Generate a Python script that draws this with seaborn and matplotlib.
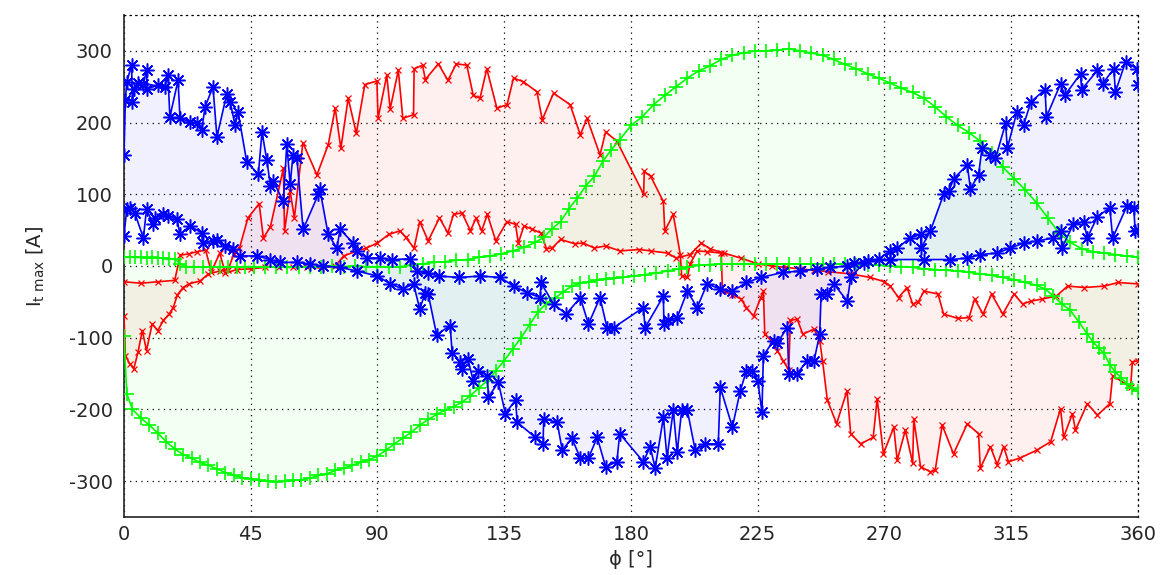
import numpy as np
import matplotlib
matplotlib.use("Agg")
import matplotlib.pyplot as plt
import seaborn as sns

# ---------------- data ----------------
xticks = [0, 45, 90, 135, 180, 225, 270, 315, 360]
yticks = [-300, -200, -100, 0, 100, 200, 300]

# green (+) : upper curve
g_top_phi = [0,2,4,6,8,10,12,14,16,18,20,22,25,28,31,34,37,40,43,46,50,54,58,62,66,70,74,78,82,86,90,94,98,
             102,106,110,114,118,122,126,130,134,138,142,146,149,152,155,158,161,164,167,170,173,176,180,184,
             188,192,196,200,204,208,212,216,220,224,228,232,236,240,244,248,252,256,260,264,268,272,276,280,
             284,288,292,296,300,304,308,312,316,320,324,328,332,336,340,344,348,352,356,360]
g_top_val = [12,13,12,12,11,12,11,11,10,10,3,-1,-1,-2,-1,-2,-1,-2,-1,-1,-2,-1,-2,-1,-1,-1,0,-1,0,-1,-1,-2,-1,
             1,3,5,6,8,9,12,14,17,21,26,33,40,52,62,80,95,112,125,146,162,176,196,208,
             225,238,250,262,272,279,288,294,297,300,300,301,303,300,297,294,288,281,275,268,262,255,248,242,
             234,222,208,196,186,174,158,138,122,106,88,67,46,33,24,20,18,16,14,12]

# green (+) : lower curve
g_bot_phi = [0,1,3,6,9,12,15,18,21,24,27,30,33,36,39,42,45,48,51,54,57,60,63,66,69,72,75,78,81,84,87,90,93,96,99,
             102,105,108,111,114,117,120,123,126,129,132,135,138,141,144,147,150,153,156,159,162,165,168,171,174,
             177,181,185,189,193,197,200,204,208,212,216,220,224,228,232,236,240,244,248,252,256,260,264,268,272,
             276,280,284,288,292,296,300,304,308,312,316,320,324,327,330,333,336,339,342,344,346,348,350,352,354,
             356,358,360]
g_bot_val = [-98,-178,-200,-212,-222,-233,-245,-255,-263,-268,-274,-278,-283,-288,-292,-295,-297,-299,-300,-301,
             -300,-299,-298,-296,-292,-290,-285,-282,-278,-274,-270,-265,-257,-248,-240,
             -232,-222,-214,-207,-201,-196,-190,-181,-170,-160,-146,-132,-116,-100,-82,-64,-52,-45,-36,-28,-24,
             -22,-20,-18,-17,-16,-14,-12,-10,-7,-4,-2,1,2,3,3,3,3,3,3,3,3,3,3,3,3,2,2,1,0,
             -1,-2,-4,-5,-6,-7,-9,-11,-13,-16,-19,-23,-27,-32,-42,-53,-62,-78,-95,-106,-114,-122,-138,-148,-156,
             -164,-170,-174]

# red (x) : large curve
r_big_phi = [0,0.5,2,3.5,5,6.5,8,10,12,14,16,17.5,19,21,23,27,30,34,37,39,41,44,48,49.5,52,56.6,57,59,60.5,
             63.5,68.5,72.5,75,77,79.6,82.5,85.5,89.8,90.2,93.3,94.5,97.4,99,102.8,103,106,107,111.6,115,118,
             121.7,124,126.4,128.8,132.4,136,138.3,141.8,146.6,148.5,152.5,158.4,162,164.4,169,171,175,184.5,
             184.7,187,191.5,192,195,197.5,198,200,201,203.5,207,212,212.5,216,219,221,223.5,226,227,227.5,230,
             232,234,236,236.6,239,241,245,247,248,249.7,253,256.7,258,261.5,266,267.4,269.6,273.3,274.5,277.4,
             280,280.4,282.8,286.3,288,290.5,294.5,299.4,303.4,304,307.6,310,312.3,314,318,324,329,332.5,333.6,
             336.7,337.8,342,345.6,350,351,357.4,358,360]
r_big_val = [-70,-125,-136,-143,-120,-90,-118,-81,-90,-76,-67,-58,-40,-30,-25,-21,-11,-7,-5,17,25,67,87,39,55,
             136,49,104,67,
             172,127,169,220,164,234,185,253,258,206,266,219,273,206,211,275,280,260,282,259,282,
             280,238,234,275,220,225,262,257,243,204,241,225,183,206,155,187,174,100,
             132,125,90,49,72,16,-14,-16,3,21,20,18,-35,-40,-46,-58,-70,-45,-35,-95,-105,
             -118,-132,-145,-76,-74,-95,-88,-104,-132,-187,-220,-174,-234,-248,-239,-185,-262,-225,-271,-229,
             -275,-213,-280,-287,-285,-222,-262,-220,-234,-282,-252,-277,-252,-273,-268,-257,-245,-199,-239,
             -206,-229,-192,-208,-192,-153,-169,-134,-132]

# red (x) : small curve
r_small_phi = [0,6,12,18,20,23,26,29,31,34,36,40,45,50,55,60,65,70,75,78,82,86,90,94,98,100,103,105,108,112,
               115,117,120,123,125,127,129,132,136,139,140,142,145,148,150,152,155,160,163,167,171,176,183,187,
               193,196,201,205,208,213,219,225,230,235,240,245,250,258,265,270,272,275,278,280,282,284,289,291,
               296,300,302,305,308,312,316,319,322,326,331,335,341,348,353,360]
r_small_val = [-22,-24,-22,-20,15,17,20,22,-8,18,-10,-5,-4,-2,-1,-2,-1,-3,0,14,20,25,32,44,49,40,25,62,35,67,
               46,72,74,49,67,49,72,35,62,58,32,56,51,46,24,25,37,31,32,25,28,21,23,21,
               18,11,16,32,24,18,11,3,0,-2,-4,-6,-8,-11,-16,-22,-28,-44,-30,-53,-50,-35,-39,-67,
               -73,-72,-46,-67,-39,-67,-39,-53,-49,-46,-42,-28,-30,-28,-23,-25]

# blue (*) : curve starting high
b_a_phi = [0,0.5,1,2.7,3,3.4,5,6.9,8,8.2,12,14.5,15.6,16.3,19.2,19.9,23.4,25.8,27.6,28.8,31.6,33,36.5,37.7,
           39.4,40.5,43.6,47.7,49,50.7,52,53,56.6,57.8,59,60,61.4,63.6,69,69.5,72.5,75.6,76.7,81.4,82.7,86.3,
           91,95,101.6,104,108,112,119,126.5,133.6,138.3,143,147.8,148,152.5,157,162,164.9,169,171.5,173.8,
           184.4,185,191.5,191.7,193,196.4,200,203.5,207,211.7,216,221,226,234,240,246,250.8,256.8,259,264,
           272,284,293.4,299.4,304,310,314.7,319.4,324.3,330,332.5,333,337,340.7,342,345.6,350,351,356,358.5,
           359,360]
b_a_val = [155,232,257,280,229,247,255,254,273,247,252,250,266,208,259,206,201,199,190,222,250,180,240,229,
           197,215,145,128,187,148,112,118,90,170,114,155,150,51,100,108,44,25,51,32,21,11,
           11,9,10,-7,-10,-14,-16,-14,-16,-28,-37,-44,-23,-53,-67,-44,-81,-44,-86,-86,
           -58,-86,-42,-81,-76,-72,-35,-58,-25,-32,-35,-23,-16,-9,-7,-4,-2,0,4,7,
           9,9,9,11,16,18,25,32,35,39,49,25,58,62,39,69,81,39,83,81,
           49,50]

# blue (*) : curve starting low
b_b_phi = [0,1,2,3.8,6.9,8,10.4,11,14,15.6,18.8,19.9,23.4,27.6,28,31.6,33,35.9,38.8,41.2,47.2,52,55.4,61.4,
           66,70.7,76.7,82.7,90,94.5,99,102.8,105,107,108,111,115.8,116.5,119.4,120,122,124,125.8,129,129.4,
           132.9,135.4,139,139.6,146,148.8,149,153.8,155.6,159,162,164.9,168,171,175,176,184.4,186.8,188.6,
           191.5,192.8,195,196.4,198,200,202.8,206.4,211,211.7,216,218.8,221,223,225,226.5,227,230.6,232,
           235.5,236,239,242.6,245,247,247.5,249.7,252,256.8,258,262.6,268,272,274.6,279,282.8,283,286.3,
           291,292.8,294.6,299.4,300.5,303.4,304.6,307.6,309.4,313,313.6,317,319.4,322,327,327.5,332.5,334,
           339.6,340,345.6,347.4,351.4,352,355.6,359.6,360]
b_b_val = [42,80,81,74,39,79,58,67,72,70,65,44,56,46,32,35,36,28,24,14,14,9,5,5,
           3,0,-2,-7,-14,-25,-32,-25,-60,-37,-39,-96,-83,-121,-134,-143,-129,-160,-146,-153,-183,
           -162,-206,-187,-218,-239,-248,-213,-218,-257,-240,-268,-268,-239,-280,-273,-234,-273,-252,-282,
           -211,-268,-201,-260,-201,-201,-257,-248,-248,-169,-225,-174,-146,-146,-160,-204,-125,-104,-107,
           -86,-150,-150,-132,-132,-95,-39,-39,-25,-49,-16,4,10,21,25,39,44,25,49,
           100,104,122,141,108,127,164,155,150,199,164,215,197,229,246,208,254,238,
           268,246,273,254,275,243,285,275,252]

# ---------------- style ----------------
sns.set_style("white")
plt.rcParams["font.family"] = ["DejaVu Sans"]
plt.rcParams["mathtext.default"] = "regular"

fig = plt.figure(figsize=(11.63, 5.75), dpi=100)
ax = fig.add_axes([0.1066, 0.1009, 0.8719, 0.873])

BLUE, RED, GREEN = "#0000ff", "#ff0000", "#00ff00"

def band(xa, ya, xb, yb, color, alpha):
    xs = np.concatenate([np.asarray(xa, float), np.asarray(xb, float)[::-1]])
    ys = np.concatenate([np.asarray(ya, float), np.asarray(yb, float)[::-1]])
    ax.fill(xs, ys, color=color, alpha=alpha, lw=0, zorder=1)

band(r_big_phi, r_big_val, r_small_phi, r_small_val, RED, 0.06)
band(g_top_phi, g_top_val, g_bot_phi, g_bot_val, GREEN, 0.05)
band(b_a_phi, b_a_val, b_b_phi, b_b_val, BLUE, 0.06)

common = dict(sort=False, estimator=None, ax=ax)
for xs, ys in [(r_big_phi, r_big_val), (r_small_phi, r_small_val)]:
    sns.lineplot(x=xs, y=ys, color=RED, lw=1.2, marker="x", markersize=5,
                 markeredgecolor=RED, markeredgewidth=0.9, zorder=3, **common)
for xs, ys in [(g_top_phi, g_top_val), (g_bot_phi, g_bot_val)]:
    sns.lineplot(x=xs, y=ys, color=GREEN, lw=1.2, marker="+", markersize=10,
                 markeredgecolor=GREEN, markeredgewidth=1.2, zorder=4, **common)
for xs, ys in [(b_a_phi, b_a_val), (b_b_phi, b_b_val)]:
    sns.lineplot(x=xs, y=ys, color=BLUE, lw=1.2, marker=(8, 2, 0), markersize=10,
                 markeredgecolor=BLUE, markeredgewidth=1.1, zorder=5, **common)

ax.set_xlim(0, 360)
ax.set_ylim(-350, 350)
ax.set_xticks(xticks)
ax.set_yticks(yticks)
ax.set_xticklabels([str(v) for v in xticks])
ax.set_yticklabels([str(v) for v in yticks])

ax.grid(True, color="black", linestyle=(0, (1, 3.5)), linewidth=0.9)
ax.set_axisbelow(True)

for s in ["left", "bottom"]:
    ax.spines[s].set_color("#222222")
    ax.spines[s].set_linewidth(1.2)
for s in ["top", "right"]:
    ax.spines[s].set_color("black")
    ax.spines[s].set_linestyle((0, (1, 3.5)))
    ax.spines[s].set_linewidth(0.9)

ax.tick_params(axis="both", direction="in", length=5, width=1, color="#222222",
               labelsize=14, labelcolor="#262626", top=False, right=False)
ax.tick_params(axis="x", pad=6)
ax.tick_params(axis="y", pad=8)

ax.set_xlabel("\u03d5 [\u00b0]", fontsize=14, color="#262626")
ax.set_ylabel(r"I$_{t\ max}$ [A]", fontsize=14, color="#262626")
ax.xaxis.set_label_coords(0.5, -0.066)
ax.yaxis.set_label_coords(-0.076, 0.5)

fig.savefig("out.png", dpi=100)
